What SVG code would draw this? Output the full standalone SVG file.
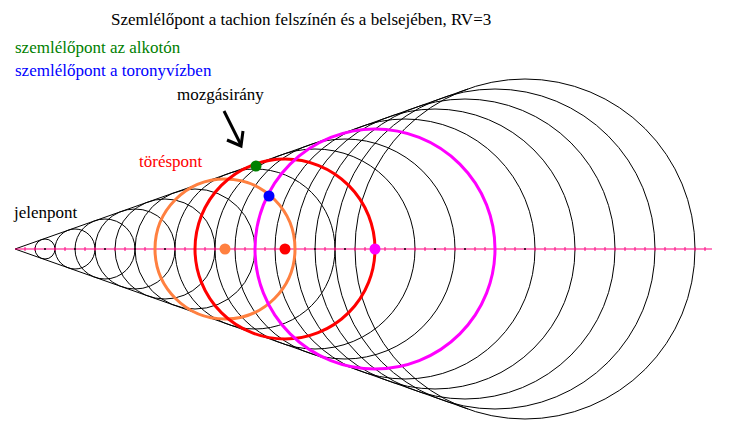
<svg xmlns="http://www.w3.org/2000/svg" width="730" height="430" viewBox="0 0 730 430">
<style>
.c{fill:none;stroke:#000;stroke-width:1}
.tk{stroke:#ff0080;stroke-width:1}
</style>
<rect width="730" height="430" fill="#fff"/>
<g id="circles">
<circle class="c" cx="45" cy="249" r="10"/><circle class="c" cx="75" cy="249" r="20"/><circle class="c" cx="105" cy="249" r="30"/><circle class="c" cx="135" cy="249" r="40"/><circle class="c" cx="165" cy="249" r="50"/><circle class="c" cx="195" cy="249" r="60"/><circle class="c" cx="225" cy="249" r="70"/><circle class="c" cx="255" cy="249" r="80"/><circle class="c" cx="285" cy="249" r="90"/><circle class="c" cx="315" cy="249" r="100"/><circle class="c" cx="345" cy="249" r="110"/><circle class="c" cx="375" cy="249" r="120"/><circle class="c" cx="405" cy="249" r="130"/><circle class="c" cx="435" cy="249" r="140"/><circle class="c" cx="465" cy="249" r="150"/><circle class="c" cx="495" cy="249" r="160"/><circle class="c" cx="525" cy="249" r="170"/>
</g>
<g id="cone" stroke="#000" stroke-width="1">
<line x1="15" y1="249" x2="468" y2="89"/><line x1="15" y1="249" x2="468" y2="409"/>
</g>
<g id="axis">
<line x1="15" y1="249" x2="712" y2="249" stroke="#ff0080" stroke-width="1.2"/>
<path class="tk" d="M25 247v4M35 247v4M55 247v4M65 247v4M85 247v4M95 247v4M115 247v4M125 247v4M145 247v4M155 247v4M175 247v4M185 247v4M205 247v4M215 247v4M235 247v4M245 247v4M265 247v4M275 247v4M295 247v4M305 247v4M325 247v4M335 247v4M355 247v4M365 247v4M385 247v4M395 247v4M415 247v4M425 247v4M445 247v4M455 247v4M475 247v4M485 247v4M505 247v4M515 247v4M535 247v4M545 247v4M555 247v4M565 247v4M575 247v4M585 247v4M595 247v4M605 247v4M615 247v4M625 247v4M635 247v4M645 247v4M655 247v4M665 247v4M675 247v4M685 247v4M695 247v4M705 247v4"/>
<path stroke="#000" stroke-width="1.5" d="M44 249h2M74 249h2M104 249h2M134 249h2M164 249h2M194 249h2M224 249h2M254 249h2M284 249h2M314 249h2M344 249h2M374 249h2M404 249h2M434 249h2M464 249h2M494 249h2M524 249h2"/>
</g>
<g id="orange"><circle cx="225" cy="249" r="70" fill="none" stroke="#ff8040" stroke-width="3"/><circle cx="225" cy="249" r="5.5" fill="#ff8040"/></g>
<g id="red"><circle cx="285" cy="249" r="90" fill="none" stroke="#ff0000" stroke-width="3"/><circle cx="285" cy="249" r="5.5" fill="#ff0000"/></g>
<g id="magenta"><circle cx="375" cy="249" r="120" fill="none" stroke="#ff00ff" stroke-width="3"/><circle cx="375" cy="249" r="5.5" fill="#ff00ff"/></g>
<g id="green-point"><circle cx="256" cy="166" r="5.5" fill="#008000"/></g>
<g id="blue-point"><circle cx="269" cy="196" r="5.5" fill="#0000ff"/></g>
<g id="arrow" stroke="#000" stroke-width="3" fill="none">
<line x1="224" y1="111" x2="241" y2="145"/><path d="M227 140L241 146L243 131"/>
</g>
<g id="labels" font-family="'Liberation Serif', 'Times New Roman', serif" font-size="17">
<text x="111" y="25">Szemlélőpont a tachion felszínén és a belsejében, RV=3</text>
<text x="15" y="53" fill="#008000">szemlélőpont az alkotón</text>
<text x="15" y="76" fill="#0000ff">szemlélőpont a toronyvízben</text>
<text x="177" y="100">mozgásirány</text>
<text x="139" y="167" fill="#ff0000">töréspont</text>
<text x="14" y="218">jelenpont</text>
</g>
</svg>
